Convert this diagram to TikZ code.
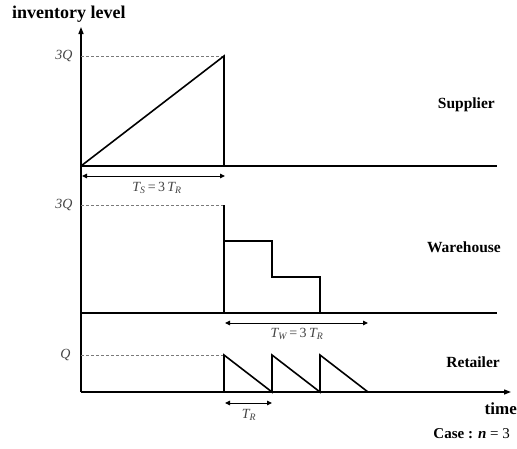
\documentclass[tikz,border=0pt]{standalone}
\usepackage{fontspec}
\setmainfont{Liberation Serif}
\usepackage{tikz}
\usetikzlibrary{arrows.meta}
\definecolor{dashgray}{HTML}{7A7A7A}
\definecolor{lblgray}{HTML}{444444}
\newcommand{\sub}[2]{{\itshape #1}\textsubscript{\itshape #2}}

\begin{document}
\begin{tikzpicture}[x=1pt, y=-1pt,
  axis/.style={line width=1.3pt, -{Triangle[length=7pt,width=5pt]}},
  base/.style={line width=1.8pt},
  prof/.style={line width=1.6pt, line join=miter},
  lvl/.style={dashgray, dash pattern=on 3pt off 2pt, line width=0.8pt},
  span/.style={{Triangle[length=5pt,width=4.5pt]}-{Triangle[length=5pt,width=4.5pt]}, line width=1pt},
  mlbl/.style={lblgray, font=\fontsize{14}{16}\selectfont},
  tier/.style={font=\fontsize{15.5}{18}\selectfont\bfseries, anchor=east, inner sep=0pt},
]
\useasboundingbox (0,0) rectangle (517,448);

% axes
\coordinate (O)    at (81,392);
\coordinate (ytop) at (81,27);
\coordinate (tend) at (511,392);
\draw[axis] (O) -- (ytop);
\draw[axis] (O) -- (tend);
\node[font=\fontsize{18}{20}\selectfont\bfseries, anchor=west, inner sep=0pt] (ylab) at (12,14) {inventory level};
\node[tier, font=\fontsize{17}{19}\selectfont\bfseries] (tlab) at (517,409) {time};
\node[tier, font=\fontsize{15}{18}\selectfont\bfseries] (case) at (510,434) {Case : \textit{n} {\mdseries = 3}};

% supplier
\coordinate (s0) at (81,166);
\coordinate (s1) at (497,166);
\coordinate (stop) at (224,56);
\draw[base] (s0) -- (s1);
\draw[lvl] (81,56) -- (stop);
\draw[prof] (s0) -- (stop) -- (stop |- s0);
\node[mlbl, anchor=east] (sq) at (76,56) {\itshape 3Q};
\draw[span] (82,176) -- (225,176);
\node[mlbl] (ts) at (157,188) {\sub{T}{S}\,=\,3\,\sub{T}{R}};
\node[tier] (sup) at (495,105) {Supplier};

% warehouse
\coordinate (w0) at (81,313);
\coordinate (w1) at (497,313);
\coordinate (wtop) at (224,205);
\draw[base] (w0) -- (w1);
\draw[lvl] (81,205) -- (wtop);
\draw[prof] (wtop) -- (wtop |- w0);
\draw[prof] (224,241) -| (272,277) -| (320,313);
\node[mlbl, anchor=east] (wq) at (76,205) {\itshape 3Q};
\draw[span] (225,323) -- (368,323);
\node[mlbl] (tw) at (297,334) {\sub{T}{W}\,=\,3\,\sub{T}{R}};
\node[tier] (war) at (501,247) {Warehouse};

% retailer
\coordinate (rtop) at (224,355);
\draw[lvl] (81,355) -- (rtop);
\draw[prof] (224,392) -- (rtop) -- (272,392) -- (272,355) -- (320,392) -- (320,355) -- (368,392);
\node[mlbl, anchor=east] (rq) at (74,355) {\itshape Q};
\draw[span] (225,403) -- (272,403);
\node[mlbl] (tr) at (249,415) {\sub{T}{R}};
\node[tier] (ret) at (500,362) {Retailer};

\end{tikzpicture}
\end{document}
